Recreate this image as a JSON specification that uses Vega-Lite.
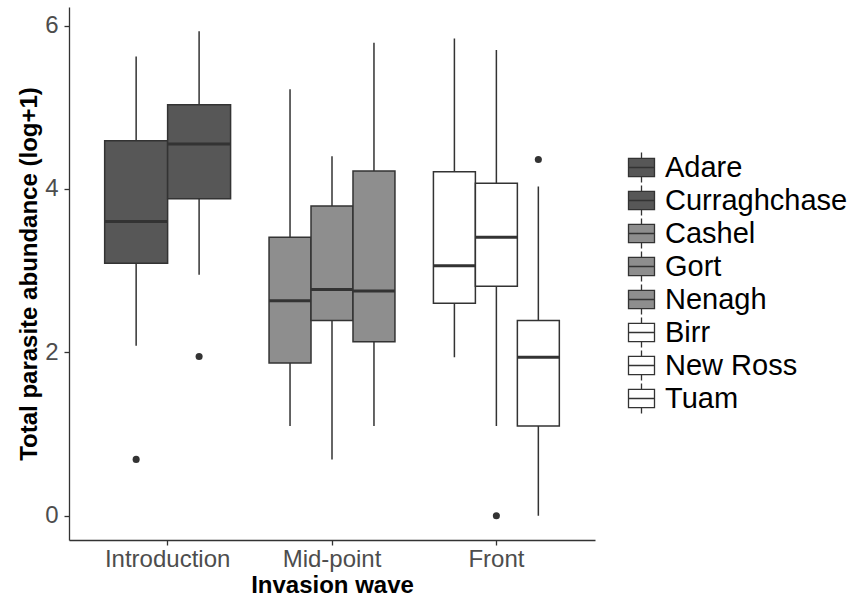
{
  "$schema": "https://vega.github.io/schema/vega-lite/v6.json",
  "width": 526,
  "height": 533,
  "autosize": {"type": "none"},
  "padding": {"left": 69, "top": 7, "right": 261, "bottom": 63},
  "background": "white",
  "datasets": {
    "boxes": [
      {"wave": "Introduction", "site": "Adare", "lower": 2.08, "q1": 3.09, "median": 3.6, "q3": 4.59, "upper": 5.62},
      {"wave": "Introduction", "site": "Curraghchase", "lower": 2.95, "q1": 3.88, "median": 4.55, "q3": 5.03, "upper": 5.93},
      {"wave": "Mid-point", "site": "Cashel", "lower": 1.1, "q1": 1.87, "median": 2.63, "q3": 3.41, "upper": 5.22},
      {"wave": "Mid-point", "site": "Gort", "lower": 0.69, "q1": 2.39, "median": 2.77, "q3": 3.79, "upper": 4.4},
      {"wave": "Mid-point", "site": "Nenagh", "lower": 1.1, "q1": 2.13, "median": 2.75, "q3": 4.22, "upper": 5.79},
      {"wave": "Front", "site": "Birr", "lower": 1.94, "q1": 2.6, "median": 3.06, "q3": 4.21, "upper": 5.84},
      {"wave": "Front", "site": "New Ross", "lower": 1.1, "q1": 2.81, "median": 3.41, "q3": 4.07, "upper": 5.7},
      {"wave": "Front", "site": "Tuam", "lower": 0.0, "q1": 1.1, "median": 1.94, "q3": 2.39, "upper": 4.03}
    ],
    "outliers": [
      {"wave": "Introduction", "site": "Adare", "value": 0.69},
      {"wave": "Introduction", "site": "Curraghchase", "value": 1.95},
      {"wave": "Front", "site": "New Ross", "value": 0.0},
      {"wave": "Front", "site": "Tuam", "value": 4.36}
    ]
  },
  "config": {
    "view": {"stroke": null},
    "font": "Liberation Sans",
    "axis": {
      "grid": false,
      "domainColor": "#333333",
      "domainWidth": 1.3,
      "tickColor": "#333333",
      "tickWidth": 1.3,
      "tickSize": 5,
      "labelColor": "#4d4d4d",
      "labelFont": "Liberation Sans",
      "labelFontSize": 24,
      "titleFont": "Liberation Sans",
      "titleFontSize": 24,
      "titleFontWeight": "bold",
      "titleColor": "#000000"
    },
    "axisX": {"labelPadding": 2, "titlePadding": 2, "labelAngle": 0},
    "axisY": {"labelPadding": 6, "titlePadding": 3},
    "legend": {
      "orient": "none",
      "legendX": 558,
      "legendY": 146,
      "padding": 0,
      "labelFont": "Liberation Sans",
      "labelFontSize": 29,
      "labelColor": "#000000",
      "labelLimit": 400,
      "labelOffset": 9,
      "rowPadding": -6,
      "symbolSize": 676,
      "symbolType": "M-1,-0.7H1V0.7H-1Z M-1,0H1 M0,-0.7V-1.15 M0,0.7V1.15",
      "symbolStrokeColor": "#333333",
      "symbolStrokeWidth": 1.3,
      "symbolOpacity": 1
    }
  },
  "encoding": {
    "x": {
      "field": "wave",
      "type": "nominal",
      "title": "Invasion wave",
      "scale": {"domain": ["Introduction", "Mid-point", "Front"], "paddingInner": 0.234, "paddingOuter": 0.217}
    }
  },
  "layer": [
    {
      "data": {"name": "boxes"},
      "transform": [{"filter": "datum.wave === 'Introduction'"}],
      "encoding": {"xOffset": {"field": "site", "type": "nominal", "scale": {"paddingInner": 0, "paddingOuter": 0}}},
      "layer": [
        {
          "mark": {"type": "rule", "color": "#333333", "strokeWidth": 1.5},
          "encoding": {
            "y": {"field": "lower", "type": "quantitative", "title": "Total parasite abundance (log+1)", "scale": {"domain": [-0.2965, 6.2265], "nice": false, "zero": false}, "axis": {"values": [0, 2, 4, 6], "format": "d"}},
            "y2": {"field": "upper"}
          }
        },
        {
          "mark": {"type": "bar", "stroke": "#333333", "strokeWidth": 1.5},
          "encoding": {
            "y": {"field": "q1", "type": "quantitative", "title": "Total parasite abundance (log+1)"},
            "y2": {"field": "q3"},
            "fill": {
              "field": "site",
              "type": "nominal",
              "title": null,
              "scale": {
                "domain": ["Adare", "Curraghchase", "Cashel", "Gort", "Nenagh", "Birr", "New Ross", "Tuam"],
                "range": ["#575757", "#575757", "#8e8e8e", "#8e8e8e", "#8e8e8e", "#ffffff", "#ffffff", "#ffffff"]
              }
            }
          }
        },
        {
          "mark": {"type": "bar", "stroke": "#333333", "strokeWidth": 3, "fillOpacity": 0},
          "encoding": {
            "y": {"field": "median", "type": "quantitative", "title": "Total parasite abundance (log+1)"},
            "y2": {"field": "median"}
          }
        },
        {
          "data": {"name": "outliers"},
          "transform": [{"filter": "datum.wave === 'Introduction'"}],
          "mark": {"type": "circle", "color": "#333333", "size": 50, "opacity": 1},
          "encoding": {
            "y": {"field": "value", "type": "quantitative", "title": "Total parasite abundance (log+1)"}
          }
        }
      ]
    },
    {
      "data": {"name": "boxes"},
      "transform": [{"filter": "datum.wave === 'Mid-point'"}],
      "encoding": {"xOffset": {"field": "site", "type": "nominal", "scale": {"paddingInner": 0, "paddingOuter": 0}}},
      "layer": [
        {
          "mark": {"type": "rule", "color": "#333333", "strokeWidth": 1.5},
          "encoding": {
            "y": {"field": "lower", "type": "quantitative", "title": "Total parasite abundance (log+1)"},
            "y2": {"field": "upper"}
          }
        },
        {
          "mark": {"type": "bar", "stroke": "#333333", "strokeWidth": 1.5},
          "encoding": {
            "y": {"field": "q1", "type": "quantitative", "title": "Total parasite abundance (log+1)"},
            "y2": {"field": "q3"},
            "fill": {"field": "site", "type": "nominal", "title": null}
          }
        },
        {
          "mark": {"type": "bar", "stroke": "#333333", "strokeWidth": 3, "fillOpacity": 0},
          "encoding": {
            "y": {"field": "median", "type": "quantitative", "title": "Total parasite abundance (log+1)"},
            "y2": {"field": "median"}
          }
        }
      ]
    },
    {
      "data": {"name": "boxes"},
      "transform": [{"filter": "datum.wave === 'Front'"}],
      "encoding": {"xOffset": {"field": "site", "type": "nominal", "scale": {"paddingInner": 0, "paddingOuter": 0}}},
      "layer": [
        {
          "mark": {"type": "rule", "color": "#333333", "strokeWidth": 1.5},
          "encoding": {
            "y": {"field": "lower", "type": "quantitative", "title": "Total parasite abundance (log+1)"},
            "y2": {"field": "upper"}
          }
        },
        {
          "mark": {"type": "bar", "stroke": "#333333", "strokeWidth": 1.5},
          "encoding": {
            "y": {"field": "q1", "type": "quantitative", "title": "Total parasite abundance (log+1)"},
            "y2": {"field": "q3"},
            "fill": {"field": "site", "type": "nominal", "title": null}
          }
        },
        {
          "mark": {"type": "bar", "stroke": "#333333", "strokeWidth": 3, "fillOpacity": 0},
          "encoding": {
            "y": {"field": "median", "type": "quantitative", "title": "Total parasite abundance (log+1)"},
            "y2": {"field": "median"}
          }
        },
        {
          "data": {"name": "outliers"},
          "transform": [{"filter": "datum.wave === 'Front'"}],
          "mark": {"type": "circle", "color": "#333333", "size": 50, "opacity": 1},
          "encoding": {
            "y": {"field": "value", "type": "quantitative", "title": "Total parasite abundance (log+1)"}
          }
        }
      ]
    }
  ],
  "resolve": {"scale": {"xOffset": "independent"}}
}
